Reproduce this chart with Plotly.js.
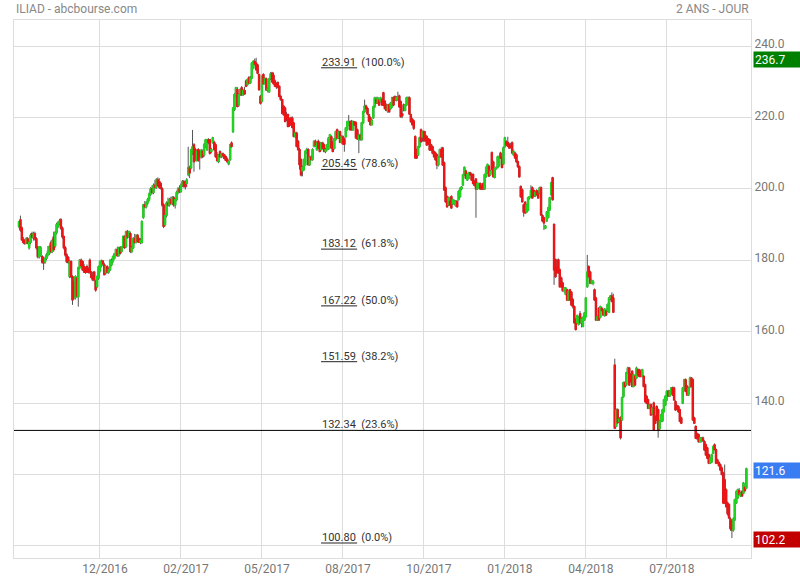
<!DOCTYPE html>
<html><head><meta charset="utf-8">
<script src="https://cdn.plot.ly/plotly-3.0.1.min.js"></script>
<style>html,body{margin:0;padding:0;background:#fff;}#chart{width:800px;height:580px;}</style>
</head><body><div id="chart"></div>
<script>
const titleLeft = 'ILIAD - abcbourse.com';
const titleRight = '2 ANS - JOUR';
const tickIndex = [56,112,168,224,280,336,392,448];
const tickLabels = ['12/2016','02/2017','05/2017','08/2017','10/2017','01/2018','04/2018','07/2018'];
const yTicks = [100,120,140,160,180,200,220,240];
const yTickText = ['','','140.0','160.0','180.0','200.0','220.0','240.0'];
const fibLevels = [233.91,205.45,183.12,167.22,151.59,132.34,100.80];
const fibPct = ['100.0%','78.6%','61.8%','50.0%','38.2%','23.6%','0.0%'];
const hLine = 132.34;

const opens = [189.4,191.3,189,185.7,185.5,184.8,186,183.5,185,187.5,
186.5,187.5,186,183.5,181,181.5,181,180.5,179.5,180.5,
181.5,182,184.8,182.5,186.5,184,187.7,189.4,190.3,191.3,
189,186.6,183.5,181.5,180.8,175.4,179.6,175.4,173.6,169.5,
175,169.8,177.9,180,179.6,178.2,177.5,178.2,177.5,180,
176.7,175.5,176.7,174,172.6,175,177,178.5,179.8,178.7,
176.5,178.2,176.7,177.3,178.7,179.8,180.6,181.8,183,181.3,
183.5,182.5,183.8,186.6,183.8,188,186.6,187.5,182.5,183.5,
186,185,187,186,185,185,192,195.5,195,196.1,
197,198.5,200,199,201,200.5,202.5,202,201.5,200,
195.5,190,192.5,196,195.5,197,196,197.5,195.5,197,
199,200,199.2,201,202,202,201.5,204,205.9,205.9,
210,212.3,211,208,211,210.5,209,210.5,209.5,212,
211,213.7,213.7,210.5,213,213,212.3,209.5,207.6,210.4,
209,209.8,209.5,209,208.3,207,208.2,212.8,216,222.2,
226.4,227.8,223.5,226.4,228.3,226.4,227.5,230.2,229.2,231.1,
229.7,231,233.8,235.7,235.2,234.7,232,225.9,224.5,232,
229.5,230.8,227.7,227.2,231,232.4,231.8,230.2,229.4,229.8,
228.7,225.9,225,223.1,222.6,220.8,220.8,219.5,219.8,219.8,
218.4,214.7,215.6,213.3,211,208.2,205,205.4,206.8,210.5,
211,206.8,208.9,208.2,211.9,213.3,211,213.3,212.8,211,
212.8,212.3,210.5,211,211.2,213.3,214.6,213,211.3,213.8,
216.5,214.3,216,213,214.6,214,214.6,216.6,218,218.8,
218.8,216.6,218.8,218.5,216.5,213.8,215,213.8,218.5,221.6,
223.2,222.5,220.7,219.9,218,219.9,223,225,224.1,224.8,
224.5,225,226.9,224.5,223.5,222,223.5,222.5,223,225.5,
225.8,224.9,224.9,226,224.4,221,223.5,222,223.5,224.5,
225.5,220.7,219.5,219,214.6,210.9,209.5,211.8,216.5,214.5,
216,215,214.6,214,213.7,212.3,211.8,210.4,210,209.5,
206.7,209,211,211.4,207.3,200.3,197.8,195.5,196.5,197.8,
195.8,196,195.3,196.5,197,197.8,200,201.1,203.9,205,
202.5,203,204.5,204,204,202,202.7,200,200.5,201.5,
200.9,201.5,200,203.4,204.5,206.3,204,210.1,207.5,203.2,
205.7,206,206.5,210,208.7,207,211.8,213.2,213,212.5,
212,212.9,209.5,210,209.5,207.6,206.2,200.6,199.7,195.5,
196.2,193.5,194,197.5,197.8,200.3,199.5,198,199.5,199.2,
198.9,200.3,192.5,191.9,189,191,192,194.1,198.4,203.1,
190,180.1,178,180.1,177.3,175,173.6,171.5,170.5,171.7,
168.9,171.7,171,169,167,163.4,162.5,162,165,162.5,
161.5,163.3,164.2,172.6,178.2,176.7,173.6,173.5,171.7,169.4,
163.3,166.5,164,166.5,166,164.5,165.8,165.8,165.5,169.4,
170,169.4,150.6,133.5,138.1,134.8,135.9,135.3,141.8,145.7,
145.1,148.5,149.8,148,148.9,144.7,147.5,147,149.3,149.3,
148.9,147.5,147.5,145.1,141.9,140.9,138.6,139.5,137,140,
136.2,139,138.1,132.8,134.9,135,137.6,139.5,140.9,143.3,
142,142.8,144.2,144.2,140.4,139.2,139,138.1,135.8,140,
143.7,146.5,144.7,142.3,144.5,147,146.5,135.8,133.4,131.3,
131.1,129.2,129.3,130.2,129.2,128.3,127.4,125.5,123.2,123.5,
126,128.3,126.9,124,123.3,122.7,121.8,120.4,118.5,115.7,
112,111.5,107.5,106.8,104.5,107.3,112,113.4,115.5,114,
115.2,114.8,116.4,116.2];

const highs = [191,192.5,189.5,186.5,186,186.5,186.5,185.5,187.5,188,
188,188,186.5,184,184,184,181.5,181,181,182,
184,184.2,185.5,186,188,188.2,190.5,191,191.6,191.8,
189.5,187,184,182,181.2,180,180,175.8,174.2,175.8,
175.4,178.2,180.3,180.5,180,179,178.2,178.8,178,180.5,
177,176.7,177,174.5,175.8,178.5,180,180.2,180,179.3,
178.5,178.6,178,180.3,180.5,181.4,182,183.3,183.8,183.8,
184,184,187,187,188.3,188.5,188.3,188,184,186.5,
187.4,187.2,187.3,186.4,186.2,191.2,195.8,196.6,196.5,197.5,
199,200.5,201,201.5,202.5,203,203.2,203,202,200.5,
196,193,196.5,197.5,197.5,197.8,198,198,197.5,199.5,
200.5,201,201.5,202.5,202.5,202.3,203,211.8,206.5,211.2,
216.5,212.8,211.5,210.8,211.4,211,211.2,211,212.8,214,
214,214.2,214,211.5,214.6,213.5,212.8,210.3,209.8,210.8,
210,210.2,209.8,209.4,208.8,208,212.6,213.3,222.9,226.8,
228.6,228.5,226.8,228.2,228.8,228,228.6,230.6,230.9,231.6,
231.6,235.5,236,236.5,236.7,235,232.3,226.3,231.8,232.4,
231.2,231.2,228.4,231.1,232.7,232.8,232.6,230.6,229.8,230.1,
229,226.2,225.3,223.5,223,221.5,221.1,220,220.2,220.3,
218.8,216,216,213.7,211.5,208.6,206.5,208.5,210.8,211.5,
211.4,209.2,209.4,211.4,213.6,213.8,213,213.8,213.2,213.1,
213.2,212.7,211.5,212.6,214.5,215.4,215,213.4,214.3,216.3,
216.9,216.3,216.3,215,215,214.4,217.3,219.1,220.7,219.2,
219.3,219.2,219,218.9,216.9,215.4,215.5,218.8,221.9,225,
223.6,222.9,221,220.3,219.5,223.3,225.8,225.8,225.8,225.2,
225.8,225.4,227.2,224.9,223.9,223.8,223.9,224.3,225.8,225.9,
226.2,226,227.2,226.4,224.8,222,223.9,223.8,225.8,225.9,
225.9,221.1,219.9,219.4,215,211.3,212.1,214.6,216.9,216.3,
216.4,216.2,215,214.3,214,212.6,212.1,210.8,210.4,209.9,
209.3,211.3,211.7,211.8,207.7,200.7,198.2,197.8,197.8,198.2,
197.3,197,196.9,196.8,199.6,200.5,200.8,204.2,206.3,205.4,
204.3,204.8,204.8,204.4,204.4,202.4,203,201.8,201.8,201.8,
201.2,201.8,204.3,206.3,207.1,206.7,205.3,210.5,207.9,205.9,
206.3,209.3,209.3,210.4,209,211.9,214.6,213.6,214.6,212.9,
212.9,213.3,210.8,210.4,209.9,208,206.6,201,200.1,195.9,
196.6,195.8,197.8,198,201,200.7,199.9,199.3,199.9,199.6,
200.6,200.7,192.9,192.2,189.9,193.8,195,197.8,202,203.4,
190.4,180.5,180.4,180.5,177.7,175.4,174,172.5,172.5,172,
171.5,172,171.4,169.4,167.4,163.8,164.8,164.3,165.8,164,
164.3,165.5,169.7,181.5,178.6,177.1,174.6,174.5,172.1,169.8,
164.5,166.9,167.3,167,166.4,166.6,166.2,167.9,169.7,170.3,
171,170.6,152.4,138.5,138.5,136,136.3,141.8,146,146.1,
148.8,150.2,150.1,148.4,149.2,148.2,147.9,150.2,149.7,149.6,
149.3,149.6,147.9,145.5,142.3,141.3,139.8,139.9,138.9,140.4,
136.6,139.4,138.5,135.2,137,138.4,141.2,142.2,143.6,143.7,
143.6,144.5,144.6,144.6,140.8,139.6,139.4,138.5,136.2,144.5,
146.8,146.9,145.1,144.5,147.4,147.3,146.9,136.2,133.8,131.7,
131.5,130.5,130.5,130.6,129.6,128.7,127.8,125.9,124.8,125.8,
128.1,128.7,127.3,124.4,123.7,123.1,122.2,120.8,122.8,116.1,
112.4,111.9,108,107.2,108,113.2,115.5,116,116.2,115.1,
115.6,117.9,116.8,121.9];

const lows = [189,188,185.5,184.5,184.3,184.5,184.5,183,184.5,186,
185.5,185.5,183,180.5,180.5,181,179,177.3,179,180,
181,181.5,182,182,182.4,183.5,187.2,189,189.8,188.5,
186,183,181,179.2,179,175,175,167.5,169,169,
169.5,167,177.5,178,177,176.5,176.2,176.5,176.3,176.2,
174.8,174.3,174,171.2,172.2,174.5,176.5,178,178.5,175.8,
176,176.3,176.2,177,178.3,179.3,180.2,181.4,181,181,
181.6,182.2,183.4,183.2,183.5,186,186.2,182,182,183.2,
184.6,184.7,185,184.8,184.5,184.6,191.6,194.6,194.5,195.5,
196.5,198,198.5,198.5,200,200,200.5,200,199.8,195,
189,189.5,192,195,195,195.5,195.5,195,194.5,196.5,
198.5,198.8,199,200.5,200.3,199.8,200.5,203.5,203,205.5,
209.5,204.8,207.8,207.6,207.6,205.4,208.5,208.6,209,211.5,
210.6,212.5,209.6,210,212.6,210.7,208.7,207.5,207.2,208.6,
208.6,208.8,208.2,207.8,207.3,206.6,207.8,211.5,215.7,221.8,
225.8,222.8,223,226,226,226,226.3,228.5,228.9,229.4,
229.4,230.7,233.5,234.5,233.1,232.1,227.5,223.6,224.2,229.2,
229.2,227.4,227,226.9,230.5,229.7,229.2,228.5,228,228.1,
225.6,224.7,220.9,220.5,218.6,219,217.2,217.3,217.7,216.9,
214.4,214.2,211.6,210.7,205.4,203.5,203.5,205,206.5,209.8,
206.5,206.4,208,207.9,211.6,211.8,210.6,211.1,210.2,210.7,
211,210.2,210,210.7,210.9,213,211.2,210.2,211,213.5,
214,214,212.8,212.7,212.3,210.4,214.3,216.3,217.7,216.3,
216.3,216.2,217.6,214,213.7,210,213.5,213.5,218.2,221.3,
222.2,220.7,218.7,217.7,217.7,219.6,222.7,223.8,223.8,223.2,
224.2,223.2,223.2,222.2,221.7,221.3,221.3,222.2,222.7,223.2,
224.6,224.5,224.6,222.7,219.9,219.8,221.7,221.7,223.2,224.2,
220.7,218.5,217.7,216.5,208.4,208.4,209.2,211.5,212.9,213.2,
213.2,213.2,212,212.3,210.6,210.6,209.7,208.7,207.9,205.5,
206.3,208.7,208.7,206.4,199.4,196.1,194.7,195.2,195.2,194.4,
195.5,195.5,195,194.7,196.7,197.5,199.6,200.8,203.6,202.7,
202.2,202.7,203.6,202.2,201.2,200.7,191.9,199.7,200.2,199.7,
199.7,199.7,199.7,203.1,204.2,203.3,203.7,205.1,203.1,202.9,
205.3,205.7,206.2,208.4,205.7,206.7,211.5,212,211.7,211.2,
211.3,209.8,209.2,208.4,207.3,205.9,203.1,197.5,196.1,192.2,
193,193.2,193.7,197,197.5,197.2,197.7,197.7,198.1,197.2,
198.6,192.4,190.7,188.5,188.7,190.7,191.7,193.8,198.1,196.7,
173.1,175.1,176.2,176.2,172.3,172.3,171.2,171,170.2,168.6,
168.6,168.6,167.2,166.5,162.2,160.3,162.2,161.7,162.2,161.2,
161.2,163,163.9,172.3,175.1,173.3,173.3,173,168.6,163,
163,163,163.7,165.6,164.4,164.2,164.4,165.5,165.2,168.8,
168.2,165.2,132.7,133.2,134.2,134.5,129.8,135,141.5,144.3,
144.8,148.2,144.8,145.7,144.4,144.4,144.8,146.7,147.6,147.2,
147.2,147.2,144.4,140.1,139.7,138.3,138.3,136.4,136.7,132.2,
134.1,135,130.3,132.5,134.6,134.7,137.3,139.2,140.6,141.7,
141.7,142.5,142,140.6,137.8,138,137.3,134.6,134.1,139.7,
143.4,143,142,142,144.2,144.4,135,134.1,129.9,129.8,
128.9,128.9,129,129.2,126.6,125.2,124.3,122.9,122.9,123.2,
125.7,126.7,122.9,123,122.2,121,119.7,111.7,111.7,110.7,
108.5,107.5,104.2,102.2,104,107,111.7,113.1,114.2,113.7,
113.7,114.5,115.2,115.9];

const closes = [190.8,188.5,185.7,185,184.8,186,184.8,185,187,186.5,
187.5,186,183.5,181,183.8,183.5,179.5,179.3,180.5,181.5,
182.5,183.8,182.4,185.5,183,187.7,190,190.5,191,189,
186.6,183.5,181.5,179.6,179.4,179.6,175.4,168.9,169.5,175.4,
170,177.9,180,178.5,177.3,176.7,176.7,176.7,176.7,176.7,
175.2,174.5,174.5,171.7,175.4,178.2,179.6,179.8,179,176,
178.2,176.7,177.3,180,179.8,181,181.8,183,181.3,183.5,
182,183.8,186.6,183.5,188,186.6,188,182.5,183.5,186,
185,187,185.3,185,185.5,190.8,195.5,195,196.1,197,
198.5,200,199,201,200.5,202.5,201,200.5,200.2,195.5,
189.5,192.5,196,195.5,197,196,197.5,195.5,197,199,
200,199.2,201,202,200.8,200.6,202.5,205.9,204.5,210.9,
211.8,207.6,208.2,210.5,208,209,210.8,209,212.3,213.7,
213.7,213,210,211,214.3,211,209,208,209.5,209,
209.8,209.2,208.5,208,207.6,207.7,212.3,211.9,222.6,226.4,
228.3,223.1,226.4,227.8,226.4,227.5,226.6,228.8,230.6,229.7,
231,235.2,235.7,235,233.4,232.4,227.8,224,231.5,229.5,
230.8,227.7,228,230.8,232.2,230,229.5,228.8,228.6,228.4,
225.9,225,221.2,220.8,218.9,219.5,217.5,217.8,218,217.2,
214.7,215.6,211.9,211,206.8,203.9,206,208.2,210.5,211,
206.8,208.9,208.2,211,213.3,212.2,212.8,211.4,210.5,212.8,
211.4,210.5,211,212.3,214.2,215.1,211.5,210.5,214,216,
214.3,216,213,214.6,212.6,212.5,217,218.8,218.8,216.6,
216.6,218.8,218,214.3,214,215,214,218.5,221.6,223.2,
222.5,221,219,218,219.2,223,225.5,224.1,225.5,223.5,
225.5,223.5,223.5,222.5,222,223.5,221.6,224,225.5,223.5,
224.9,225.5,225.8,223,220.2,220.5,222,223.5,225.5,225.5,
221,218.8,218,217,208.7,208.7,211.8,214.3,213.2,216,
213.5,213.5,212.3,212.6,210.9,210.9,210,209,208.2,206.7,
209,211,209,206.7,199.7,196.4,195,197.5,195.5,194.7,
197,196.6,196.6,195,199.3,200,200.5,203.9,206,203,
204,204.5,204,202.5,201.5,201,200,201.5,201.5,200,
200,200,204,206,206.8,203.6,205,205.4,203.4,205.7,
206,209,209,208.7,206,211.5,214.3,212.3,212,211.5,
211.6,210.1,210.5,208.7,207.6,206.2,203.4,197.8,196.4,193.5,
193.3,195.5,197.5,197.8,199.5,197.5,198,199,198.4,197.5,
200.3,192.7,191,190.5,189.6,193.5,194.7,197.5,201.7,197,
177.3,175.4,176.5,176.5,172.6,172.6,171.5,172.2,172.2,168.9,
171.2,168.9,167.5,167,162.5,160.6,164.5,164,162.5,163.5,
164,165.2,169.4,176.7,175.4,173.6,174.2,174,168.9,163.3,
164.2,163.3,167,166,164.7,166.3,164.7,167.6,169.4,170,
168.5,165.5,133,138,134.5,135.5,130.3,141.5,145.7,144.6,
148.5,149.8,145.1,146,144.7,147.9,145.1,149.8,147.9,147.5,
147.5,149.3,144.7,140.4,140,138.6,139.5,136.7,138.6,132.5,
134.4,135.3,132.5,134.9,136.7,138.1,140.9,141.9,143.3,142,
143.3,144.2,142.3,140.9,138.1,138.4,137.6,134.9,134.4,144.2,
146.5,143.3,142.3,144.2,147,144.7,135.3,134.4,130.2,130,
129.2,130.2,130.2,129.5,126.9,125.5,124.6,123.2,124.5,125.5,
127.8,127,123.2,123.3,122.5,121.3,120,112,112,111,
109,107.8,104.8,104.5,107.5,112.9,115.2,115.7,114.5,114.8,
114,117.6,115.5,121.6];

const idx = closes.map((_, i) => i);
const bodyTop = opens.map((o, i) => Math.max(o, closes[i]));
const bodyBottom = opens.map((o, i) => Math.min(o, closes[i]));
const maxHigh = Math.max(...highs);
const minLow = Math.min(...lows);
const lastClose = closes[closes.length - 1];

const WICK = '#555555', UP = '#1fd41f', DOWN = '#ec1416';

const wickTrace = {
  type: 'candlestick', x: idx, open: opens, high: highs, low: lows, close: closes,
  increasing: {line: {color: WICK, width: 1}, fillcolor: WICK},
  decreasing: {line: {color: WICK, width: 1}, fillcolor: WICK},
  whiskerwidth: 0, hoverinfo: 'skip', showlegend: false
};
const bodyTrace = {
  type: 'candlestick', x: idx, open: opens, high: bodyTop, low: bodyBottom, close: closes,
  increasing: {line: {color: UP, width: 1.2}, fillcolor: UP},
  decreasing: {line: {color: DOWN, width: 1.2}, fillcolor: DOWN},
  whiskerwidth: 0, hoverinfo: 'skip', showlegend: false
};

const labelX = 0.4166, underlineW = 0.049;
const shapes = [{type: 'line', xref: 'paper', x0: 0, x1: 1, yref: 'y', y0: hLine, y1: hLine,
  line: {color: '#000', width: 1}}];
const annotations = [];
fibLevels.forEach((lv, k) => {
  shapes.push({type: 'line', xref: 'paper', x0: labelX, x1: labelX + underlineW, yref: 'y', y0: lv, y1: lv,
    line: {color: '#222', width: 1}});
  annotations.push({xref: 'paper', x: labelX, xanchor: 'left', yref: 'y', y: lv, yanchor: 'bottom',
    yshift: -2, text: lv.toFixed(2) + '\u00a0\u00a0(' + fibPct[k] + ')', showarrow: false,
    font: {family: 'Roboto, sans-serif', size: 11, color: '#333'}, borderpad: 0});
});
annotations.push({xref: 'paper', yref: 'paper', x: 0, y: 1, xanchor: 'left', yanchor: 'bottom', yshift: 2,
  text: titleLeft, showarrow: false, font: {family: 'Roboto, sans-serif', size: 12, color: '#888'}});
annotations.push({xref: 'paper', yref: 'paper', x: 1, y: 1, xanchor: 'right', yanchor: 'bottom', yshift: 2,
  text: titleRight, showarrow: false, font: {family: 'Roboto, sans-serif', size: 12, color: '#888'}});
[[maxHigh, '#008000'], [lastClose, '#3a7cf2'], [minLow, '#c20000']].forEach(([v, c]) => {
  annotations.push({xref: 'paper', x: 1, xshift: 2, xanchor: 'left', yref: 'y', y: v, yanchor: 'middle',
    yshift: -1.5, text: v.toFixed(1), showarrow: false, bgcolor: c, width: 44, height: 13, align: 'left',
    borderpad: 1, font: {family: 'Roboto, sans-serif', size: 12, color: '#fff'}});
});

const layout = {
  width: 800, height: 580,
  margin: {l: 14, r: 49, t: 20, b: 22},
  paper_bgcolor: '#fff', plot_bgcolor: '#fff',
  showlegend: false, boxgap: 0.2, boxgroupgap: 0,
  font: {family: 'Roboto, sans-serif', size: 12, color: '#777'},
  xaxis: {range: [-3.46, 506.2], tickmode: 'array', tickvals: tickIndex, ticktext: tickLabels,
    showgrid: true, gridcolor: '#dddddd', gridwidth: 1, zeroline: false,
    showline: true, mirror: true, linecolor: '#dddddd', linewidth: 1, ticks: '',
    tickfont: {size: 12, color: '#777'}, ticklabelshift: 5,
    rangeslider: {visible: false}, fixedrange: true},
  yaxis: {side: 'right', range: [96.6, 247.3], tickmode: 'array', tickvals: yTicks, ticktext: yTickText,
    showgrid: true, gridcolor: '#dddddd', gridwidth: 1, zeroline: false,
    showline: true, mirror: true, linecolor: '#dddddd', linewidth: 1, ticks: '',
    tickfont: {size: 12, color: '#777'}, ticklabelshift: -2, fixedrange: true},
  shapes: shapes, annotations: annotations
};

Plotly.newPlot('chart', [wickTrace, bodyTrace], layout, {displayModeBar: false, staticPlot: true});
</script>
</body></html>
